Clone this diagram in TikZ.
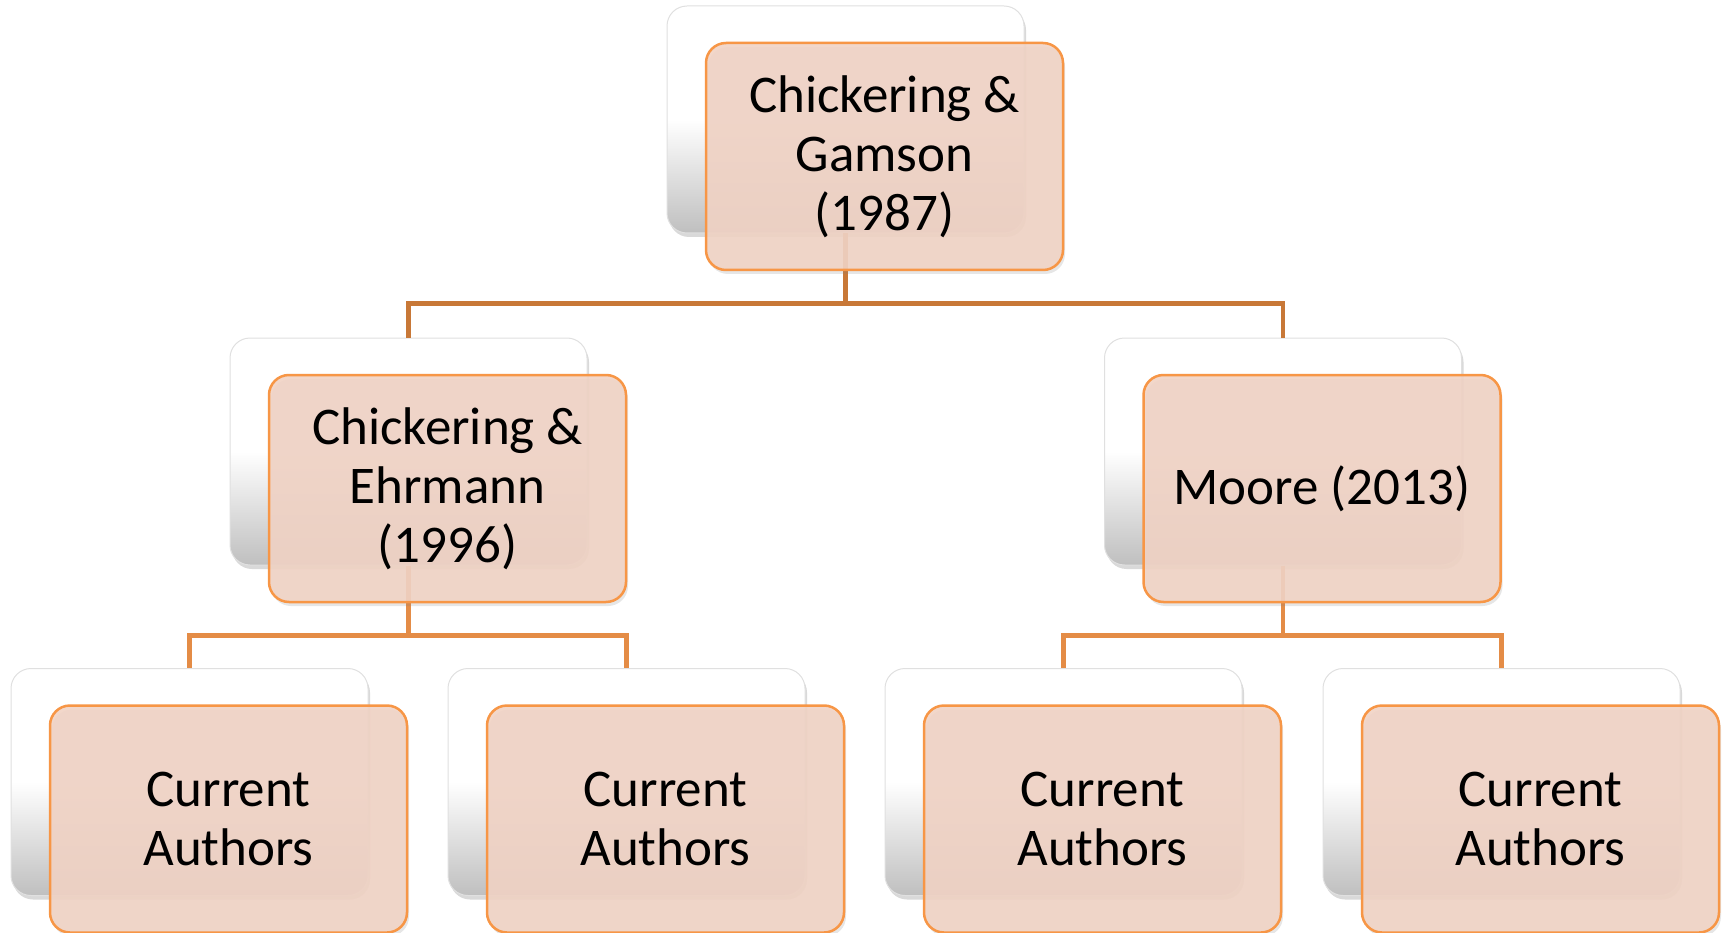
\documentclass[tikz,border=0pt]{standalone}
\usepackage{fontspec}
\setmainfont{Carlito}
\usetikzlibrary{shadows}
\definecolor{boxfill}{HTML}{F1D3C5}
\definecolor{boxline}{HTML}{F79646}
\definecolor{linkdark}{HTML}{C87837}
\definecolor{linklight}{HTML}{E48C46}

\begin{document}
\begin{tikzpicture}[x=1pt,y=-1pt,
  back/.style={rectangle,rounded corners=20pt,minimum width=357pt,minimum height=227pt,inner sep=0pt,
    draw=black!12,line width=1pt,top color=white,bottom color=black!25,middle color=white,
    drop shadow={shadow xshift=2pt,shadow yshift=-4pt,opacity=0.3}},
  front/.style={rectangle,rounded corners=20pt,minimum width=357pt,minimum height=227pt,inner sep=0pt,
    draw=boxline,line width=2.5pt,fill=boxfill,fill opacity=0.9,text opacity=1,align=center,
    font=\fontsize{53}{59}\selectfont,
    drop shadow={shadow xshift=2pt,shadow yshift=-4pt,opacity=0.2}},
  link/.style={line width=4.5pt}]
  \useasboundingbox (0,0) rectangle (1729,933);

  % back boxes
  \node[back] (top) at (845.5,119.5) {};
  \node[back] (ce) at (408.5,451.5) {};
  \node[back] (mo) at (1283,451.5) {};
  \node[back] (ca1) at (189.5,782) {};
  \node[back] (ca2) at (626.5,782) {};
  \node[back] (ca3) at (1063.5,782) {};
  \node[back] (ca4) at (1501.5,782) {};

  % connectors
  \draw[link,linkdark] (top.south) -- ++(0,70) -| (ce.north);
  \draw[link,linkdark] (top.south) -- ++(0,70) -| (mo.north);
  \draw[link,linklight] (ce.south) -- ++(0,70) -| (ca1.north);
  \draw[link,linklight] (ce.south) -- ++(0,70) -| (ca2.north);
  \draw[link,linklight] (mo.south) -- ++(0,70) -| (ca3.north);
  \draw[link,linklight] (mo.south) -- ++(0,70) -| (ca4.north);

  % front boxes
  \node[front] (topf) at ([shift={(39,37)}]top) {Chickering \&\\Gamson\\(1987)};
  \node[front] (cef) at ([shift={(39,37)}]ce) {Chickering \&\\Ehrmann\\(1996)};
  \node[front] (mof) at ([shift={(39,37)}]mo) {Moore (2013)};
  \node[front] (ca1f) at ([shift={(39,37)}]ca1) {Current\\Authors};
  \node[front] (ca2f) at ([shift={(39,37)}]ca2) {Current\\Authors};
  \node[front] (ca3f) at ([shift={(39,37)}]ca3) {Current\\Authors};
  \node[front] (ca4f) at ([shift={(39,37)}]ca4) {Current\\Authors};
\end{tikzpicture}
\end{document}
